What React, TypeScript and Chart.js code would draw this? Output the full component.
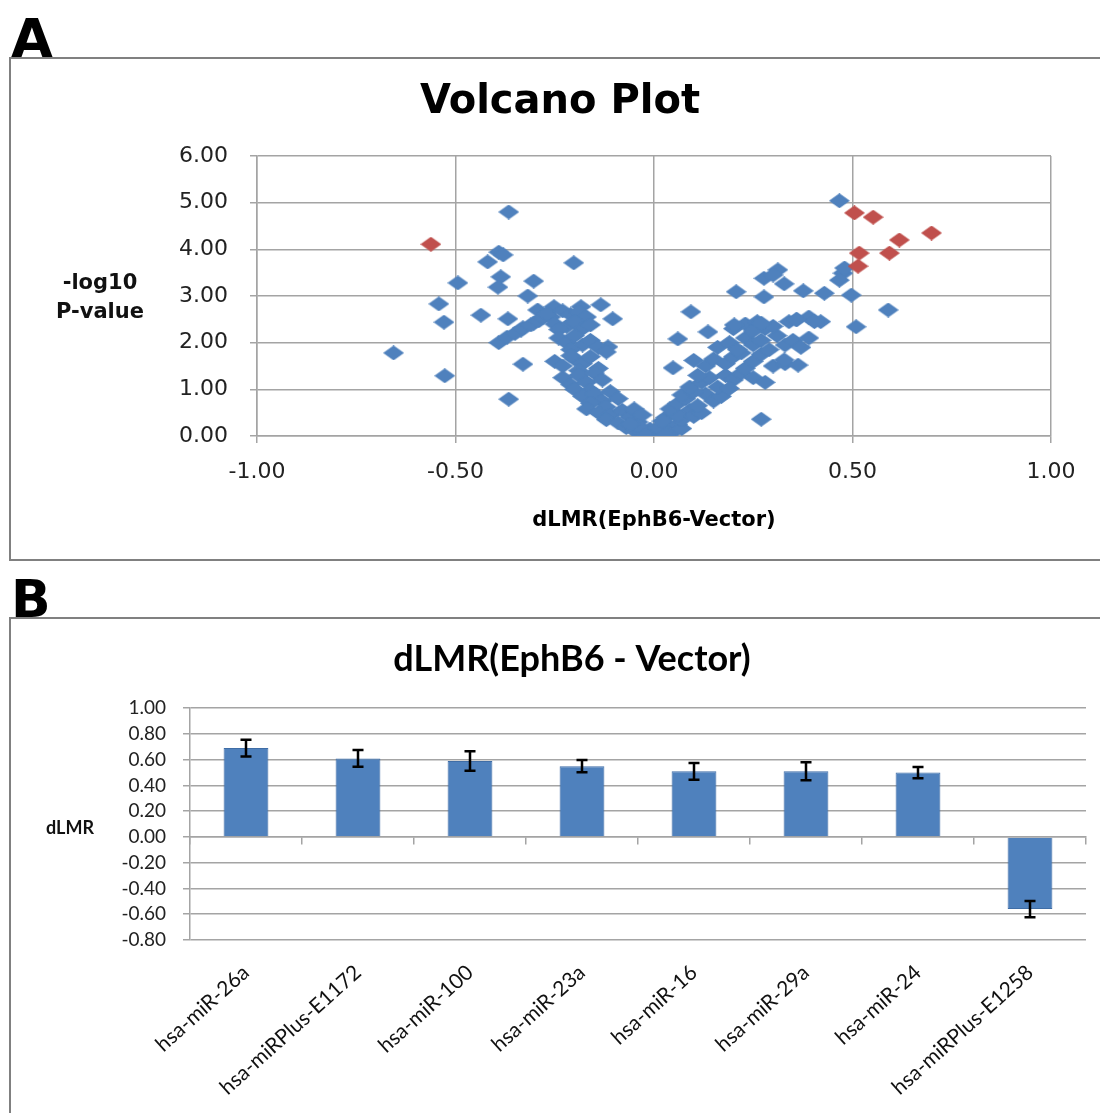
import React, { useEffect, useRef } from 'react';
import { Chart, registerables } from 'chart.js';

Chart.register(...registerables);

// ---------- Panel A: volcano plot data ----------
const redX = [-0.562, 0.505, 0.552, 0.618, 0.699, 0.517, 0.593, 0.514];
const redY = [4.11, 4.78, 4.69, 4.2, 4.35, 3.92, 3.92, 3.64];

const leftScatterX = [-0.656, -0.542, -0.529, -0.527, -0.494, -0.436, -0.419, -0.391, -0.38, -0.386, -0.393, -0.366, -0.368, -0.391, -0.366, -0.33, -0.303, -0.318, -0.202, -0.134, -0.104, -0.293, -0.252, -0.184, -0.26, -0.184, -0.303, -0.335, -0.116, -0.37, -0.35, -0.33, -0.31, -0.29, -0.28];
const leftScatterY = [1.78, 2.83, 2.44, 1.29, 3.28, 2.59, 3.73, 3.94, 3.88, 3.41, 3.19, 4.8, 2.51, 2.0, 0.79, 1.54, 3.32, 3.0, 3.71, 2.81, 2.51, 2.7, 2.77, 2.77, 2.55, 2.48, 2.42, 2.27, 1.91, 2.12, 2.2, 2.32, 2.38, 2.47, 2.55];

const leftBandX = [-0.27, -0.23, -0.21, -0.19, -0.17, -0.25, -0.22, -0.2, -0.18, -0.16, -0.24, -0.24, -0.22, -0.2, -0.18, -0.16, -0.14, -0.21, -0.12, -0.25, -0.23, -0.2, -0.18, -0.16, -0.14, -0.19, -0.21, -0.23, -0.21, -0.19, -0.17, -0.15, -0.13, -0.2, -0.16, -0.18, -0.15, -0.13, -0.11, -0.16, -0.12, -0.09, -0.17, -0.14, -0.11, -0.08, -0.06, -0.12, -0.05, -0.04, -0.09, -0.03, -0.07, -0.05, -0.03, 0.0, -0.01, -0.04, 0.01, -0.06, -0.02];
const leftBandY = [2.62, 2.68, 2.6, 2.65, 2.55, 2.4, 2.35, 2.45, 2.3, 2.38, 2.28, 2.1, 2.0, 2.15, 1.95, 2.05, 1.9, 1.85, 1.8, 1.6, 1.5, 1.65, 1.55, 1.7, 1.45, 1.4, 1.72, 1.25, 1.1, 1.3, 1.15, 1.35, 1.2, 1.0, 0.98, 0.85, 0.9, 0.75, 0.95, 0.7, 0.62, 0.8, 0.58, 0.5, 0.45, 0.55, 0.4, 0.35, 0.58, 0.3, 0.28, 0.45, 0.18, 0.12, 0.08, 0.03, 0.15, 0.22, 0.06, 0.25, 0.02];

const rightBandX = [0.02, 0.03, 0.04, 0.05, 0.06, 0.01, 0.07, 0.03, 0.03, 0.05, 0.07, 0.09, 0.02, 0.06, 0.1, 0.04, 0.12, 0.06, 0.08, 0.11, 0.13, 0.15, 0.07, 0.1, 0.17, 0.09, 0.12, 0.14, 0.16, 0.18, 0.2, 0.22, 0.25, 0.28, 0.11, 0.19, 0.13, 0.15, 0.18, 0.2, 0.23, 0.25, 0.27, 0.3, 0.33, 0.1, 0.22, 0.16, 0.19, 0.21, 0.23, 0.25, 0.27, 0.29, 0.31, 0.33, 0.35, 0.37, 0.39, 0.2, 0.23, 0.26, 0.28, 0.3, 0.34, 0.36, 0.39, 0.42, 0.25];
const rightBandY = [0.05, 0.12, 0.2, 0.1, 0.25, 0.18, 0.16, 0.02, 0.4, 0.5, 0.35, 0.55, 0.32, 0.45, 0.42, 0.58, 0.5, 0.7, 0.8, 0.65, 0.9, 0.75, 0.88, 0.95, 0.85, 1.05, 1.15, 1.25, 1.05, 1.3, 1.2, 1.35, 1.25, 1.15, 1.3, 1.02, 1.5, 1.65, 1.55, 1.7, 1.45, 1.6, 1.75, 1.5, 1.55, 1.62, 1.78, 1.9, 2.0, 1.85, 2.1, 1.95, 2.05, 1.85, 2.15, 1.95, 2.05, 1.9, 2.1, 2.3, 2.4, 2.45, 2.3, 2.35, 2.45, 2.5, 2.55, 2.45, 2.25];

const rightScatterX = [0.467, 0.476, 0.467, 0.48, 0.497, 0.59, 0.509, 0.312, 0.277, 0.328, 0.207, 0.277, 0.376, 0.429, 0.093, 0.06, 0.136, 0.048, 0.27, 0.358, 0.404, 0.202, 0.27, 0.363, 0.328, 0.3];
const rightScatterY = [5.04, 3.49, 3.34, 3.6, 3.02, 2.7, 2.34, 3.56, 3.38, 3.26, 3.09, 2.98, 3.11, 3.06, 2.66, 2.08, 2.23, 1.46, 0.36, 2.49, 2.45, 2.38, 2.42, 1.52, 1.63, 3.45];

// ---------- Panel B: bar chart data ----------
const miRNAs = ['hsa-miR-26a', 'hsa-miRPlus-E1172', 'hsa-miR-100', 'hsa-miR-23a', 'hsa-miR-16', 'hsa-miR-29a', 'hsa-miR-24', 'hsa-miRPlus-E1258'];
const dLMR = [0.69, 0.61, 0.59, 0.55, 0.51, 0.51, 0.5, -0.56];
const dLMRErr = [0.065, 0.065, 0.075, 0.047, 0.065, 0.07, 0.043, 0.063];

const BLUE = '#4F81BD';
const RED = '#C0504D';
const GRID = '#a4a4a4';

function pairs(xs: number[], ys: number[]) {
  return xs.map((x, i) => ({ x, y: ys[i] }));
}

function makeDiamond(color: string, w: number, h: number) {
  const c = document.createElement('canvas');
  c.width = w;
  c.height = h;
  const ctx = c.getContext('2d')!;
  ctx.fillStyle = color;
  ctx.beginPath();
  ctx.moveTo(w / 2, 0);
  ctx.lineTo(w, h / 2);
  ctx.lineTo(w / 2, h);
  ctx.lineTo(0, h / 2);
  ctx.closePath();
  ctx.fill();
  return c;
}

const fmt2 = (v: any) => {
  const n = Number(v);
  return (Math.abs(n) < 1e-9 ? 0 : n).toFixed(2);
};

function VolcanoChart() {
  const ref = useRef<HTMLCanvasElement>(null);
  useEffect(() => {
    const blueD = makeDiamond(BLUE, 21, 15);
    const redD = makeDiamond(RED, 21, 15);
    const tickFont = { family: 'DejaVu Sans', size: 22 };
    const chart = new Chart(ref.current!, {
      type: 'scatter',
      data: {
        datasets: [
          { data: pairs(redX, redY), pointStyle: redD as any, pointRadius: 9, backgroundColor: RED, borderColor: RED },
          {
            data: [
              ...pairs(leftScatterX, leftScatterY),
              ...pairs(leftBandX, leftBandY),
              ...pairs(rightBandX, rightBandY),
              ...pairs(rightScatterX, rightScatterY),
            ],
            pointStyle: blueD as any,
            pointRadius: 9,
            backgroundColor: BLUE,
            borderColor: BLUE,
          },
        ],
      },
      options: {
        responsive: false,
        animation: false,
        devicePixelRatio: 1,
        events: [],
        layout: { padding: { left: 57, right: 49, top: 0, bottom: 0 } },
        plugins: {
          legend: { display: false },
          tooltip: { enabled: false },
          title: {
            display: true,
            text: 'Volcano Plot',
            color: '#000',
            font: { family: 'DejaVu Sans', size: 40, weight: 'bold' },
            padding: { top: 19, bottom: 29 },
          },
        },
        scales: {
          x: {
            type: 'linear',
            min: -1,
            max: 1,
            ticks: { stepSize: 0.5, callback: fmt2, font: tickFont, color: '#222', padding: 16, maxRotation: 0 },
            grid: { color: GRID, lineWidth: 1.5, tickLength: 7 },
            border: { color: GRID, width: 1.5 },
            title: {
              display: true,
              text: 'dLMR(EphB6-Vector)',
              color: '#000',
              font: { family: 'DejaVu Sans', size: 21, weight: 'bold' },
              padding: { top: 0, bottom: 25 },
            },
            afterFit: (s: any) => {
              s.height = 122;
            },
          },
          y: {
            min: 0,
            max: 6,
            ticks: { stepSize: 1, callback: fmt2, font: tickFont, color: '#222', padding: 22 },
            grid: { color: GRID, lineWidth: 1.5, tickLength: 7 },
            border: { color: GRID, width: 1.5 },
            afterFit: (s: any) => {
              s.width = 188;
            },
          },
        },
      } as any,
    });
    return () => chart.destroy();
  }, []);
  return (
    <canvas
      ref={ref}
      width={1088}
      height={498}
      style={{ position: 'absolute', left: 12, top: 60, width: 1088, height: 498 }}
    />
  );
}

function BarChart() {
  const ref = useRef<HTMLCanvasElement>(null);
  useEffect(() => {
    const errorBars = {
      id: 'errorBars',
      afterDatasetsDraw(chart: any) {
        const meta = chart.getDatasetMeta(0);
        const ys = chart.scales.y;
        const ctx = chart.ctx;
        ctx.save();
        ctx.strokeStyle = '#000';
        ctx.lineWidth = 2.5;
        meta.data.forEach((bar: any, i: number) => {
          const x = bar.x;
          const top = ys.getPixelForValue(dLMR[i] + dLMRErr[i]);
          const bot = ys.getPixelForValue(dLMR[i] - dLMRErr[i]);
          ctx.beginPath();
          ctx.moveTo(x, top);
          ctx.lineTo(x, bot);
          ctx.moveTo(x - 5.5, top);
          ctx.lineTo(x + 5.5, top);
          ctx.moveTo(x - 5.5, bot);
          ctx.lineTo(x + 5.5, bot);
          ctx.stroke();
        });
        ctx.restore();
      },
    };
    const chart = new Chart(ref.current!, {
      type: 'bar',
      data: {
        labels: miRNAs,
        datasets: [
          {
            data: dLMR,
            backgroundColor: BLUE,
            borderColor: '#3f6da6',
            borderWidth: 1,
            categoryPercentage: 1,
            barPercentage: 0.4,
          },
        ],
      },
      options: {
        responsive: false,
        animation: false,
        devicePixelRatio: 1,
        events: [],
        layout: { padding: { left: 46, right: 14, top: 0, bottom: 0 } },
        plugins: {
          legend: { display: false },
          tooltip: { enabled: false },
          title: {
            display: true,
            text: 'dLMR(EphB6 - Vector)',
            color: '#000',
            font: { family: 'Lato', size: 36, weight: 'bold' },
            padding: { top: 18, bottom: 27 },
          },
        },
        scales: {
          x: {
            type: 'category',
            offset: true,
            grid: { display: false },
            border: { display: false },
            ticks: {
              autoSkip: false,
              minRotation: 42,
              maxRotation: 42,
              padding: 12,
              color: '#111',
              font: { family: 'Lato', size: 21 },
            },
            afterFit: (s: any) => {
              s.height = 173;
            },
          },
          x0: {
            type: 'category',
            axis: 'x',
            position: { y: 0 },
            offset: true,
            ticks: { display: false },
            grid: { offset: true, drawOnChartArea: false, tickLength: 7, color: GRID, lineWidth: 1.5 },
            border: { display: true, color: GRID, width: 1.5 },
          },
          y: {
            min: -0.8,
            max: 1.0,
            ticks: {
              stepSize: 0.2,
              autoSkip: false,
              callback: fmt2,
              color: '#222',
              padding: 17,
              font: { family: 'Lato', size: 19 },
            },
            grid: { color: GRID, lineWidth: 1.5, tickLength: 7 },
            border: { color: GRID, width: 1.5 },
            afterFit: (s: any) => {
              s.width = 132;
            },
          },
        },
      } as any,
      plugins: [errorBars],
    });
    return () => chart.destroy();
  }, []);
  return (
    <canvas
      ref={ref}
      width={1088}
      height={493}
      style={{ position: 'absolute', left: 12, top: 620, width: 1088, height: 493 }}
    />
  );
}

export default function App() {
  const panelLetter: React.CSSProperties = {
    position: 'absolute',
    left: 11,
    fontFamily: 'DejaVu Sans',
    fontWeight: 'bold',
    lineHeight: 1,
    color: '#000',
  };
  return (
    <div
      style={{
        position: 'absolute',
        left: 0,
        top: 0,
        width: 1100,
        height: 1113,
        background: '#fff',
        overflow: 'hidden',
      }}
    >
      <div style={{ ...panelLetter, top: 12, fontSize: 54 }}>A</div>
      <div
        style={{
          position: 'absolute',
          left: 9,
          top: 57,
          width: 1110,
          height: 504,
          border: '2px solid #808080',
          boxSizing: 'border-box',
        }}
      />
      <VolcanoChart />
      <div
        style={{
          position: 'absolute',
          left: 30,
          top: 268,
          width: 140,
          textAlign: 'center',
          fontFamily: 'DejaVu Sans',
          fontWeight: 'bold',
          fontSize: 21,
          lineHeight: '29px',
          color: '#111',
        }}
      >
        -log10
        <br />
        P-value
      </div>

      <div style={{ ...panelLetter, top: 573, fontSize: 52 }}>B</div>
      <div
        style={{
          position: 'absolute',
          left: 9,
          top: 617,
          width: 1110,
          height: 600,
          border: '2px solid #808080',
          boxSizing: 'border-box',
        }}
      />
      <BarChart />
      <div
        style={{
          position: 'absolute',
          left: 20,
          top: 815,
          width: 100,
          textAlign: 'center',
          fontFamily: 'Lato',
          fontWeight: 'bold',
          fontSize: 18,
          lineHeight: '24px',
          color: '#111',
        }}
      >
        dLMR
      </div>
    </div>
  );
}
